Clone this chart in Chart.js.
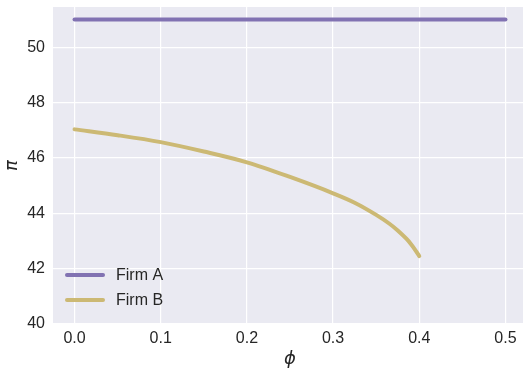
<!DOCTYPE html>
<html>
<head>
  <meta charset="utf-8">
  <title>Firm profits vs phi</title>
  <script src="https://cdn.jsdelivr.net/npm/chart.js"></script>
  <style>
    html, body { margin: 0; padding: 0; background: #fff; overflow: hidden; }
  </style>
</head>
<body>
  <canvas id="profitChart" width="527" height="374"></canvas>

  <script>
    // values
    const firmAPhi = [0.0, 0.5];
    const firmAPi = [51.0, 51.0];

    const firmBPhi = [0.0, 0.05, 0.1, 0.15, 0.2, 0.25, 0.3, 0.325, 0.35, 0.365, 0.375, 0.385, 0.39, 0.395, 0.4];
    const firmBPi = [47.03, 46.82, 46.57, 46.23, 45.84, 45.31, 44.72, 44.38, 43.94, 43.63, 43.38, 43.08, 42.90, 42.69, 42.45];

    const xTicks = [0.0, 0.1, 0.2, 0.3, 0.4, 0.5];
    const yTicks = [40, 42, 44, 46, 48, 50];

    const seriesNames = ['Firm A', 'Firm B'];
    const seriesColors = ['#8172B2', '#CCB974'];

    const textColor = '#262626';
    const tickFont = { family: 'Liberation Sans, Arial, sans-serif', size: 16 };

    const toPoints = (xs, ys) => xs.map((x, i) => ({ x: x, y: ys[i] }));

    // grey plot background like seaborn darkgrid
    const plotBg = {
      id: 'plotBg',
      beforeDraw(chart) {
        const { ctx, chartArea: a } = chart;
        ctx.save();
        ctx.fillStyle = '#EAEAF2';
        ctx.fillRect(a.left, a.top, a.right - a.left, a.bottom - a.top);
        ctx.restore();
      }
    };

    // legend drawn inside the plot, lower left
    const innerLegend = {
      id: 'innerLegend',
      afterDatasetsDraw(chart) {
        const ctx = chart.ctx;
        ctx.save();
        chart.data.datasets.forEach((ds, i) => {
          const y = 275 + i * 25;
          ctx.strokeStyle = ds.borderColor;
          ctx.lineWidth = 4;
          ctx.lineCap = 'round';
          ctx.beginPath();
          ctx.moveTo(67, y);
          ctx.lineTo(103, y);
          ctx.stroke();
          ctx.fillStyle = textColor;
          ctx.font = '16px "Liberation Sans", Arial, sans-serif';
          ctx.textBaseline = 'middle';
          ctx.fillText(ds.label, 116, y + 1);
        });
        ctx.restore();
      }
    };

    new Chart(document.getElementById('profitChart'), {
      type: 'line',
      data: {
        datasets: [
          {
            label: seriesNames[0],
            data: toPoints(firmAPhi, firmAPi),
            borderColor: seriesColors[0],
            borderWidth: 4,
            borderCapStyle: 'round',
            pointRadius: 0,
            fill: false
          },
          {
            label: seriesNames[1],
            data: toPoints(firmBPhi, firmBPi),
            borderColor: seriesColors[1],
            borderWidth: 4,
            borderCapStyle: 'round',
            pointRadius: 0,
            cubicInterpolationMode: 'monotone',
            fill: false
          }
        ]
      },
      options: {
        responsive: false,
        animation: false,
        devicePixelRatio: 1,
        layout: { padding: { top: 7, left: 0, right: 0, bottom: 0 } },
        plugins: {
          legend: { display: false },
          tooltip: { enabled: false }
        },
        scales: {
          x: {
            type: 'linear',
            min: -0.025,
            max: 0.525,
            afterBuildTicks: axis => { axis.ticks = xTicks.map(v => ({ value: v })); },
            afterFit: axis => {
              axis.height = 50;
              axis.paddingLeft = 0;
              axis.paddingRight = 0;
            },
            ticks: {
              color: textColor,
              font: tickFont,
              padding: 5,
              callback: v => v.toFixed(1)
            },
            grid: { color: '#FFFFFF', lineWidth: 1.2, drawTicks: false },
            border: { display: false },
            title: {
              display: true,
              text: 'ϕ',
              color: textColor,
              font: { family: 'DejaVu Sans', size: 18, style: 'italic' },
              padding: { top: 0, bottom: 4 }
            }
          },
          y: {
            type: 'linear',
            min: 40,
            max: 51.45,
            afterBuildTicks: axis => { axis.ticks = yTicks.map(v => ({ value: v })); },
            afterFit: axis => {
              axis.width = 53;
              axis.paddingTop = 0;
              axis.paddingBottom = 0;
            },
            ticks: {
              color: textColor,
              font: tickFont,
              padding: 8,
              callback: v => String(v)
            },
            grid: { color: '#FFFFFF', lineWidth: 1.2, drawTicks: false },
            border: { display: false },
            title: {
              display: true,
              text: 'π',
              color: textColor,
              font: { family: 'DejaVu Sans', size: 18, style: 'italic' },
              padding: { top: 2, bottom: 0 }
            }
          }
        }
      },
      plugins: [plotBg, innerLegend]
    });
  </script>
</body>
</html>
